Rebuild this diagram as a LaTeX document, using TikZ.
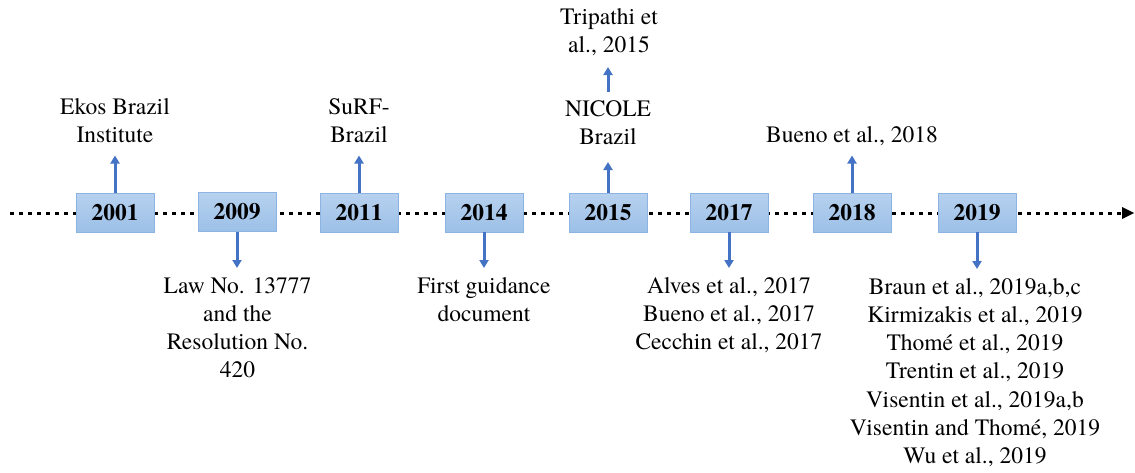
\documentclass[tikz,border=0pt]{standalone}
\usepackage{fontspec}
\setmainfont{TeX Gyre Termes}
\usetikzlibrary{arrows.meta}
\definecolor{linkblue}{HTML}{4472C4}
\definecolor{boxedge}{HTML}{8DB3E2}
\definecolor{boxtop}{HTML}{B7D1EF}
\definecolor{boxbottom}{HTML}{9CC0E7}
\tikzset{
  yearbox/.style={draw=boxedge, line width=0.8pt, top color=boxtop, bottom color=boxbottom,
    minimum width=78pt, minimum height=39pt, inner sep=0pt,
    font=\fontsize{23.5}{27}\selectfont\bfseries},
  note/.style={inner sep=0pt, align=center, font=\fontsize{23.5}{28.2}\selectfont,
    execute at begin node=\strut, execute at end node=\strut},
  link/.style={draw=linkblue, line width=3pt, -{Triangle[width=9pt,length=8pt]}},
  uplink/.style={link, shorten >=4pt},
  downlink/.style={link, shorten >=9pt},
  axis/.style={line width=3pt, dash pattern=on 3.5pt off 5.5pt},
}
\begin{document}
\begin{tikzpicture}[x=1pt, y=-1pt]
\useasboundingbox (0,0) rectangle (1135,472);

% time axis
\coordinate (axstart) at (10,213);
\coordinate (axend) at (1134,213);
\draw[axis] (axstart) -- (1122,213);
\fill (1122,207) -- (axend) -- (1122,219) -- cycle;

% year boxes
\node[yearbox] (b2001) at (115,212.5) {2001};
\node[yearbox] (b2009) at (237,212) {2009};
\node[yearbox] (b2011) at (359,212.5) {2011};
\node[yearbox] (b2014) at (484,212.5) {2014};
\node[yearbox] (b2015) at (608,212.5) {2015};
\node[yearbox] (b2017) at (729,212.5) {2017};
\node[yearbox] (b2018) at (852,212.5) {2018};
\node[yearbox] (b2019) at (977,212.5) {2019};

% labels above the axis (anchored below the last baseline)
\node[note, anchor=south] (ekos) at (115,151.5) {Ekos Brazil\\Institute};
\node[note, anchor=south] (surf) at (359,151.5) {SuRF-\\Brazil};
\node[note, anchor=south] (nicole) at (608,153.5) {NICOLE\\Brazil};
\node[note, anchor=south] (tripathi) at (609,61.5) {Tripathi et\\al., 2015};
\node[note, anchor=south] (bueno18) at (852,151.5) {Bueno et al., 2018};

% labels below the axis (anchored above the first baseline)
\node[note, anchor=north] (law) at (237.5,277) {Law No. 13777\\and the\\Resolution No.\\420};
\node[note, anchor=north] (guide) at (484,277) {First guidance\\document};
\node[note, anchor=north] (refs17) at (729,277) {Alves et al., 2017\\Bueno et al., 2017\\Cecchin et al., 2017};
\node[note, anchor=north] (refs19) at (975,278) {Braun et al., 2019a,b,c\\Kirmizakis et al., 2019\\Thomé et al., 2019\\Trentin et al., 2019\\Visentin et al., 2019a,b\\Visentin and Thomé, 2019\\Wu et al., 2019};

% connectors
\draw[uplink] (b2001.north) -- (b2001.north |- ekos.south);
\draw[uplink] (b2011.north) -- (b2011.north |- surf.south);
\draw[uplink, shorten >=8.5pt] (b2015.north) -- (b2015.north |- nicole.south);
\draw[uplink, shorten <=9pt, shorten >=5.5pt] (b2015.north |- nicole.north) -- (b2015.north |- tripathi.south);
\draw[uplink] (b2018.north) -- (b2018.north |- bueno18.south);
\draw[downlink] (b2009.south) -- (b2009.south |- law.north);
\draw[downlink] (b2014.south) -- (b2014.south |- guide.north);
\draw[downlink] (b2017.south) -- (b2017.south |- refs17.north);
\draw[downlink] (b2019.south) -- (b2019.south |- refs19.north);
\end{tikzpicture}
\end{document}
